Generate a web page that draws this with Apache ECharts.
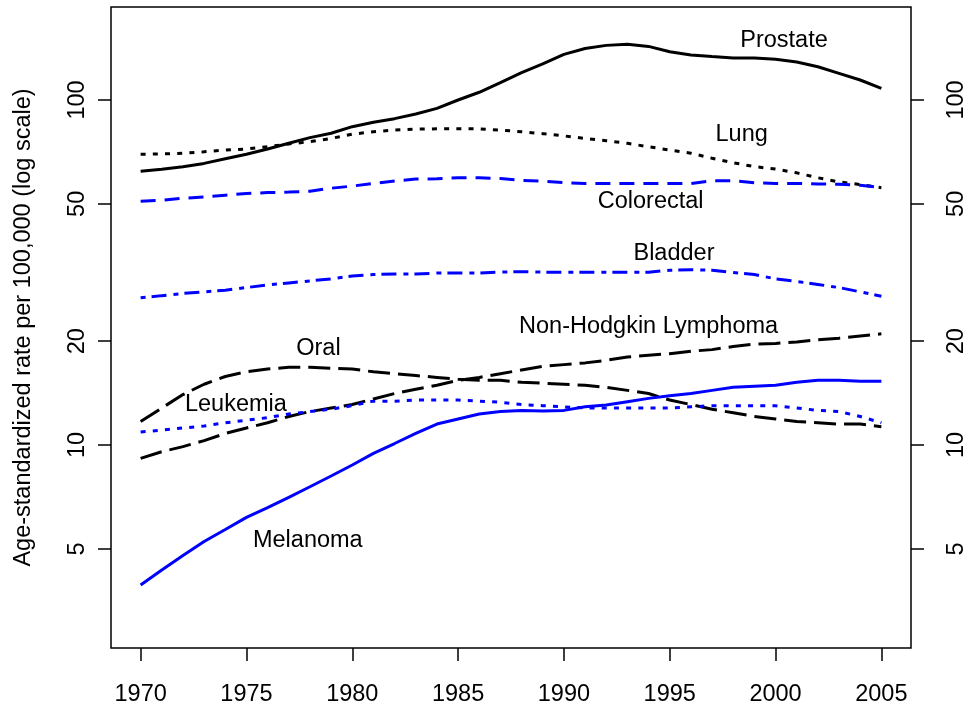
<!DOCTYPE html>
<html>
<head>
<meta charset="utf-8">
<script src="https://cdn.jsdelivr.net/npm/echarts@6/dist/echarts.min.js"></script>
<style>
html, body { margin: 0; padding: 0; background: #fff; }
#main { width: 970px; height: 709px; }
</style>
</head>
<body>
<div id="main"></div>
<script>
var years = [1970, 1971, 1972, 1973, 1974, 1975, 1976, 1977, 1978, 1979,
	1980, 1981, 1982, 1983, 1984, 1985, 1986, 1987, 1988, 1989,
	1990, 1991, 1992, 1993, 1994, 1995, 1996, 1997, 1998, 1999,
	2000, 2001, 2002, 2003, 2004, 2005];

var prostate = [62.2, 63.0, 64.1, 65.5, 67.6, 69.6, 72.1, 74.9, 77.8, 80.1,
	83.7, 86.2, 88.3, 91.1, 94.6, 100, 105.3, 112.3, 120, 127.2,
	135.6, 141, 144, 145, 143, 138, 135, 133.6, 132.4, 132.4,
	131.2, 128.8, 124.9, 119.5, 114.3, 108.1];
var lung = [69.6, 69.8, 70.1, 70.8, 71.6, 72.1, 73.2, 74.6, 75.7, 77.4,
	79.6, 80.9, 81.8, 82.4, 82.5, 82.5, 82.5, 81.8, 80.9, 79.9,
	78.7, 77.4, 76.2, 74.9, 73.2, 71.6, 70.1, 67.8, 65.8, 64.1,
	63.1, 61.5, 59.5, 57.9, 56.9, 55.7];
var colorectal = [50.9, 51.2, 51.9, 52.4, 53.0, 53.6, 53.9, 54.1, 54.4, 55.5,
	56.3, 57.3, 58.2, 59.0, 59.1, 59.5, 59.5, 59.2, 58.5, 58.2,
	57.6, 57.3, 57.3, 57.3, 57.3, 57.3, 57.3, 58.3, 58.3, 57.6,
	57.3, 57.3, 57.1, 57.0, 56.6, 55.7];
var bladder = [26.7, 27.1, 27.5, 27.8, 28.1, 28.6, 29.1, 29.5, 29.9, 30.3,
	30.9, 31.2, 31.3, 31.3, 31.5, 31.5, 31.5, 31.7, 31.8, 31.7,
	31.7, 31.7, 31.7, 31.7, 31.7, 32.1, 32.2, 32.1, 31.6, 31.2,
	30.3, 29.8, 29.2, 28.6, 27.8, 27.0];
var oral = [11.7, 12.8, 14.0, 15.0, 15.8, 16.3, 16.6, 16.8, 16.8, 16.7,
	16.6, 16.3, 16.1, 15.9, 15.7, 15.5, 15.4, 15.4, 15.2, 15.1,
	15.0, 14.9, 14.7, 14.4, 14.1, 13.5, 13.1, 12.7, 12.4, 12.1,
	11.9, 11.7, 11.6, 11.5, 11.5, 11.3];
var nhl = [9.15, 9.56, 9.89, 10.3, 10.8, 11.2, 11.6, 12.1, 12.5, 12.8,
	13.1, 13.6, 14.1, 14.5, 14.9, 15.4, 15.7, 16.1, 16.5, 16.9,
	17.1, 17.3, 17.6, 18.0, 18.2, 18.4, 18.7, 18.9, 19.3, 19.6,
	19.7, 19.9, 20.2, 20.4, 20.7, 21.0];
var leukemia = [10.9, 11.05, 11.2, 11.35, 11.6, 11.8, 12.0, 12.3, 12.5, 12.7,
	13.0, 13.4, 13.4, 13.5, 13.5, 13.5, 13.4, 13.3, 13.1, 13.0,
	12.9, 12.8, 12.8, 12.8, 12.8, 12.8, 12.9, 13.0, 13.0, 13.0,
	13.0, 12.8, 12.6, 12.5, 12.1, 11.6];
var melanoma = [3.93, 4.34, 4.78, 5.25, 5.69, 6.17, 6.58, 7.05, 7.57, 8.13,
	8.75, 9.46, 10.1, 10.8, 11.5, 11.9, 12.3, 12.5, 12.6, 12.55,
	12.6, 12.9, 13.06, 13.35, 13.65, 13.9, 14.1, 14.4, 14.7, 14.8,
	14.9, 15.2, 15.4, 15.4, 15.3, 15.3];

var xTicks = [1970, 1975, 1980, 1985, 1990, 1995, 2000, 2005];
var yTicks = [5, 10, 20, 50, 100];

// text labels written inside the plot, in data coordinates
var labelNames = ['Prostate', 'Lung', 'Colorectal', 'Bladder', 'Non-Hodgkin Lymphoma', 'Oral', 'Leukemia', 'Melanoma'];
var labelYears = [2000.4, 1998.4, 1994.1, 1995.2, 1994.0, 1978.4, 1974.5, 1977.9];
var labelValues = [149, 79.2, 50.9, 35.8, 22.0, 19.1, 13.1, 5.27];

var font = '"Liberation Sans", Arial, sans-serif';
var chart = echarts.init(document.getElementById('main'));

// log scale: values go on a linear axis as log10
function pairs(vals) {
	return years.map(function(y, i) { return [y, Math.log10(vals[i])]; });
}

function line(name, vals, color, dash) {
	return {
		name: name,
		type: 'line',
		data: pairs(vals),
		showSymbol: false,
		symbol: 'none',
		lineStyle: { color: color, width: 3, type: dash, cap: 'butt' },
		z: 3
	};
}

function yAxisOpt(pos, margin) {
	var logTicks = yTicks.map(function(v) { return Math.log10(v); });
	return {
		type: 'value',
		position: pos,
		min: 0.4116,
		max: 2.2696,
		axisLine: { show: false },
		splitLine: { show: false },
		axisTick: { show: true, length: 13, customValues: logTicks, lineStyle: { color: '#000', width: 1.5 } },
		axisLabel: {
			rotate: 90,
			margin: margin,
			fontSize: 23.5,
			color: '#000',
			fontFamily: font,
			customValues: logTicks,
			formatter: function(v) { return String(Math.round(Math.pow(10, v))); }
		}
	};
}

var leftAxis = yAxisOpt('left', 21);
leftAxis.name = 'Age-standardized rate per 100,000 (log scale)';
leftAxis.nameLocation = 'middle';
leftAxis.nameRotate = 90;
leftAxis.nameGap = 75;
leftAxis.nameTextStyle = { fontSize: 23.5, color: '#000', fontFamily: font };

var option = {
	animation: false,
	backgroundColor: '#fff',
	grid: {
		left: 111, right: 59, top: 7, bottom: 61,
		show: true, borderColor: '#000', borderWidth: 1.5,
		outerBoundsMode: 'none'
	},
	xAxis: {
		type: 'value',
		min: 1968.6,
		max: 2006.4,
		axisLine: { show: false },
		splitLine: { show: false },
		axisTick: { show: true, length: 13, customValues: xTicks, lineStyle: { color: '#000', width: 1.5 } },
		axisLabel: {
			margin: 35,
			fontSize: 23.5,
			color: '#000',
			fontFamily: font,
			customValues: xTicks,
			formatter: function(v) { return String(v); }
		}
	},
	yAxis: [leftAxis, yAxisOpt('right', 34)],
	series: [
		line('Prostate', prostate, '#000000', 'solid'),
		line('Lung', lung, '#000000', [5, 7.2]),
		line('Colorectal', colorectal, '#0000ff', [15, 9]),
		line('Bladder', bladder, '#0000ff', [5, 6, 15, 7]),
		line('Oral', oral, '#000000', [22, 8]),
		line('Non-Hodgkin Lymphoma', nhl, '#000000', [22, 8]),
		line('Leukemia', leukemia, '#0000ff', [5, 7.2]),
		line('Melanoma', melanoma, '#0000ff', 'solid')
	]
};

chart.setOption(option);

// place the curve names at their data positions
chart.setOption({
	graphic: labelNames.map(function(n, i) {
		var p = chart.convertToPixel({ gridIndex: 0 }, [labelYears[i], Math.log10(labelValues[i])]);
		return {
			type: 'text',
			x: p[0],
			y: p[1],
			z: 10,
			style: {
				text: n,
				fill: '#000',
				font: '23.5px ' + font,
				align: 'center',
				verticalAlign: 'middle'
			}
		};
	})
});
</script>
</body>
</html>
